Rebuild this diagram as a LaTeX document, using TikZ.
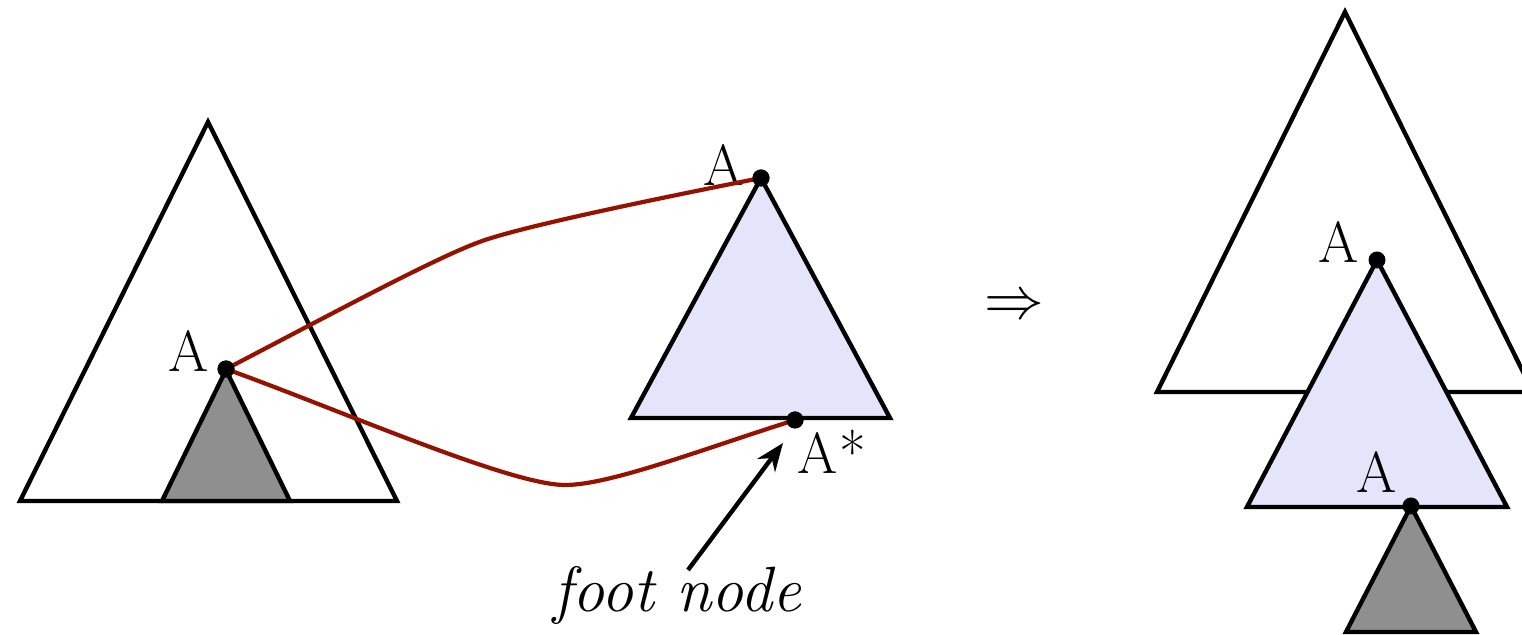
\documentclass[tikz,border=0pt]{standalone}
\usetikzlibrary{arrows.meta}
\definecolor{linkred}{RGB}{150,18,0}
\definecolor{auxblue}{RGB}{228,228,250}
\definecolor{subgrey}{RGB}{143,143,143}
\begin{document}
\begin{tikzpicture}[x=0.5pt,y=-0.5pt,
  tri/.style={draw=black,line width=2.2pt,line join=miter},
  dot/.style={circle,fill=black,inner sep=0pt,minimum size=8.5pt},
  lbl/.style={font=\fontsize{29}{32}\selectfont,inner sep=0pt},
  link/.style={draw=linkred,line width=2.1pt},
  ptr/.style={draw=black,line width=2.2pt,-{Stealth[length=14pt,width=11pt]}}]
\useasboundingbox (0,0) rectangle (1522,635);
% left initial tree
\draw[tri,fill=white] (208,122) -- (20,501) -- (397,501) -- cycle;
\draw[tri,fill=subgrey] (226,370) -- (162,501) -- (290,501) -- cycle;
\node[dot] (la) at (226,369) {};
\node[lbl] (lalbl) at (189,351) {A};
% auxiliary tree
\draw[tri,fill=auxblue] (761,178) -- (631,418) -- (890,418) -- cycle;
\node[dot] (ra) at (761,178) {};
\node[dot] (foot) at (795,420) {};
\node[lbl] (ralbl) at (724,165) {A};
\node[lbl,anchor=west] (footlbl) at (797,452) {A\kern1pt*};
% links
\coordinate (um) at (485,240);
\coordinate (lm) at (565,485);
\draw[link] (la.center) .. controls (330,315) and (440,255) .. (um)
  .. controls (530,225) and (650,200) .. (ra.center);
\draw[link] (la.center) .. controls (340,410) and (510,485) .. (lm)
  .. controls (610,485) and (700,450) .. (foot.center);
\node[dot] at (la) {};
\node[dot] at (ra) {};
\node[dot] at (foot) {};
% foot node label
\node[lbl,font=\fontsize{32}{35}\selectfont\itshape,anchor=base] (footname) at (677,612) {foot node};
\coordinate (ptrstart) at (688,570);
\coordinate (ptrend) at (783,443);
\draw[ptr] (ptrstart) -- (ptrend);
% implies
\node[lbl,scale=1.2] (impl) at (1014,308) {$\Rightarrow$};
% result tree
\draw[tri,fill=white] (1345,12) -- (1157,392) -- (1533,392) -- cycle;
\draw[tri,fill=auxblue] (1377,260) -- (1247,507) -- (1507,507) -- cycle;
\draw[tri,fill=subgrey] (1411,506) -- (1346,632) -- (1476,632) -- cycle;
\node[dot] (rt1) at (1377,260) {};
\node[dot] (rt2) at (1411,506) {};
\node[lbl] (rt1lbl) at (1339,242) {A};
\node[lbl] (rt2lbl) at (1377,472) {A};
\end{tikzpicture}
\end{document}
